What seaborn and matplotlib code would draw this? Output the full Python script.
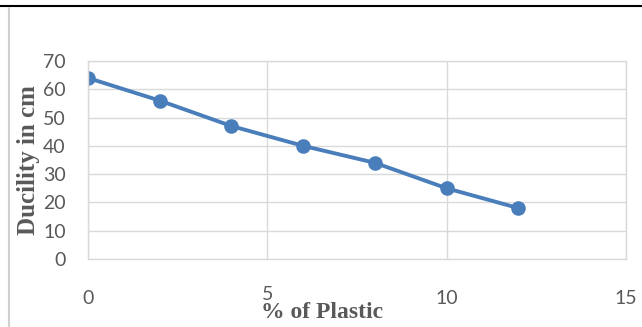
import pandas as pd
import seaborn as sns
import matplotlib.pyplot as plt
import matplotlib.transforms as mtransforms
from matplotlib.lines import Line2D

# data
plastic_pct = [0, 2, 4, 6, 8, 10, 12]
ductility_cm = [64, 56, 47, 40, 34, 25, 18]

df = pd.DataFrame({'plastic': plastic_pct, 'ductility': ductility_cm})

sns.set_style('whitegrid')
plt.rcParams['font.family'] = ['Lato', 'DejaVu Sans']

fig = plt.figure(figsize=(6.42, 3.27), dpi=100)
ax = fig.add_axes([88 / 642, 68 / 327, 538 / 642, 198 / 327])

sns.lineplot(data=df, x='plastic', y='ductility', ax=ax, color='#4A7EBB',
             linewidth=2.8, marker='o', markersize=10.5, markeredgewidth=0)

ax.set_xlim(0, 15)
ax.set_ylim(0, 70)
ax.set_xticks([0, 5, 10, 15])
ax.set_yticks(range(0, 71, 10))
ax.grid(True, color='#d9d9d9', linewidth=1)
for s in ax.spines.values():
    s.set_color('#d9d9d9')
    s.set_linewidth(1)
ax.tick_params(axis='both', length=0, labelsize=14, colors='#595959')
ax.tick_params(axis='x', pad=22)
ax.tick_params(axis='y', pad=16)

# the "5" sits a little higher in the original
lbl5 = ax.get_xticklabels()[1]
lbl5.set_transform(lbl5.get_transform() + mtransforms.ScaledTranslation(0, 4 / 100, fig.dpi_scale_trans))

ax.set_xlabel('% of Plastic', family='Liberation Serif', fontweight='bold',
              fontsize=17, color='#595959', va='center')
ax.xaxis.set_label_coords(0.435, -0.268)
ax.set_ylabel('Ducility in cm', family='Liberation Serif', fontweight='bold',
              fontsize=18, color='#595959', va='center')
ax.yaxis.set_label_coords(-0.11, 0.5)

# page frame lines from the source document
fig.add_artist(Line2D([0, 1], [1 - 6 / 327, 1 - 6 / 327], color='black', linewidth=1.5))
fig.add_artist(Line2D([8.5 / 642, 8.5 / 642], [0, 1 - 8 / 327], color='#d0d0d0', linewidth=1.5))

fig.savefig('out.png', dpi=100)
